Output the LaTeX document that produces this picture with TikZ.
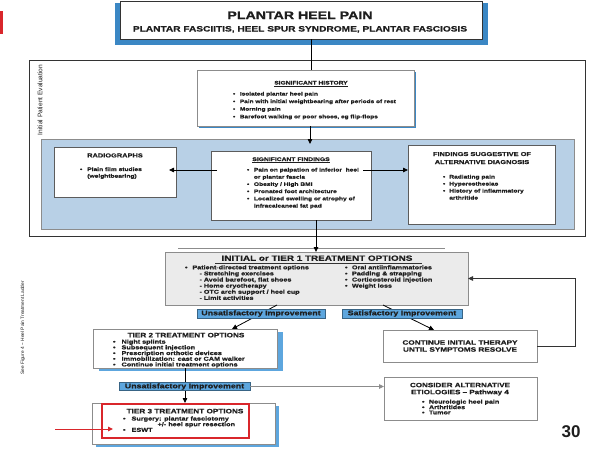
\documentclass[tikz,border=0pt]{standalone}
\usepackage{fontspec}
\setmainfont{Liberation Sans}[FakeStretch=1.3,BoldFeatures={FakeBold=0.8}]
\newfontfamily\plainf{Liberation Sans}
\usetikzlibrary{arrows.meta,calc,fit}
\newcommand{\fb}[2]{\bfseries\fontsize{#1}{#2}\selectfont}
\newcommand{\bl}[2]{\begin{tabular}[t]{@{}l@{\hspace{#1}}l@{}}#2\end{tabular}}
\newcommand{\cl}[1]{\begin{tabular}[t]{@{}c@{}}#1\end{tabular}}
\definecolor{panelblue}{HTML}{B8D0E6}
\definecolor{shadowblue}{HTML}{3B87C4}
\definecolor{labelblue}{HTML}{5DA6DE}
\definecolor{tiergray}{HTML}{EBEBEB}
\definecolor{bordergray}{HTML}{8C8C8C}
\definecolor{darkline}{HTML}{333333}
\definecolor{redmark}{HTML}{D9262B}
\definecolor{txt}{HTML}{1E1E1E}
\begin{document}
\begin{tikzpicture}[x=1pt,y=-1pt,text=txt,
  every node/.style={inner sep=0pt,outer sep=0pt},
  whitebox/.style={draw=#1,fill=white,line width=0.6pt},
  line/.style={draw=black,line width=0.8pt},
  conn/.style={draw=black,line width=0.8pt,-{Triangle[length=5pt,width=4.5pt]}},
  lab/.style={fill=labelblue,draw=labelblue!60!black,line width=0.3pt,font=\fb{6.8}{7}},
  ]
\useasboundingbox (0,0) rectangle (600,450);
\fill[white] (0,0) rectangle (600,450);
% helper coordinates
\coordinate (c170) at (0,170);
\coordinate (x311) at (311,0);
\coordinate (x310) at (310,0);
\coordinate (x316) at (316,0);
\coordinate (x277) at (277,0);
\coordinate (x232) at (232,0);
\coordinate (x383) at (383,0);
\coordinate (x434) at (434,0);
\coordinate (x575) at (575,0);
\coordinate (x185) at (185,0);
\coordinate (redstart) at (55,429);
\coordinate (redend) at (113,429);

% slide mark
\fill[redmark] (0,11) rectangle (3,34);

% title
\fill[shadowblue] (115,3) rectangle (488,45);
\node[fit={(120,1)(482,39)},draw=darkline,fill=white,line width=0.8pt] (title) {};
\node[anchor=base,font=\fb{10.9}{12}] (titleA) at (300,19) {PLANTAR HEEL PAIN};
\node[anchor=base,font=\fb{7.8}{9}] (titleB) at (300,31.5) {PLANTAR FASCIITIS, HEEL SPUR SYNDROME, PLANTAR FASCIOSIS};

% evaluation frame
\node[fit={(29,60)(585,236)},draw=darkline,line width=0.7pt] (frame) {};
\node[rotate=90,font=\plainf\fontsize{6.6}{7}\selectfont] (ipe) at (40,100) {Initial Patient Evaluation};
\node[fit={(41,139)(574,229)},draw=bordergray,fill=panelblue,line width=0.5pt] (panel) {};

% history
\fill[shadowblue] (199,72) rectangle (416,128);
\node[fit={(197,70)(414,126)},whitebox=bordergray] (history) {};
\node[anchor=base,font=\fb{5.1}{6}] (histT) at (311,84.5) {\underline{SIGNIFICANT HISTORY}};
\node[anchor=base west,font=\fb{5}{7.6}] (histB) at (233,95.5) {\bl{4.6pt}{%
\textbullet & Isolated plantar heel pain\\
\textbullet & Pain with initial weightbearing after periods of rest\\
\textbullet & Morning pain\\
\textbullet & Barefoot walking or poor shoes, eg flip-flops}};

% radiographs
\node[fit={(54,147)(176,197)},whitebox=darkline!80] (radio) {};
\node[anchor=base,font=\fb{5.7}{6}] (radioT) at (115,157.4) {RADIOGRAPHS};
\node[anchor=base west,font=\fb{5.1}{6.7}] (radioB) at (80,171) {\bl{5pt}{%
\textbullet & Plain film studies\\
 & (weightbearing)}};

% findings
\node[fit={(211,151)(371,220)},whitebox=darkline!80] (findings) {};
\node[anchor=base,font=\fb{5.2}{6}] (findT) at (291,161) {\underline{SIGNIFICANT FINDINGS}};
\node[anchor=base west,font=\fb{5.1}{7.2}] (findB) at (247,171.5) {\bl{4.6pt}{%
\textbullet & Pain on palpation of inferior\ \ heel\\
 & or plantar fascia\\
\textbullet & Obesity / High BMI\\
\textbullet & Pronated foot architecture\\
\textbullet & Localized swelling or atrophy of\\
 & infracalcaneal fat pad}};

% alternative diagnosis
\node[fit={(408,145)(555,224)},whitebox=darkline!80] (alt) {};
\node[anchor=base,font=\fb{5.7}{8}] (altT) at (482,156) {\cl{FINDINGS SUGGESTIVE OF\\ALTERNATIVE DIAGNOSIS}};
\node[anchor=base west,font=\fb{5.1}{7}] (altB) at (443,178.5) {\bl{4pt}{%
\textbullet & Radiating pain\\
\textbullet & Hyperesthesias\\
\textbullet & History of inflammatory\\
 & arthritide}};

% tier 1
\draw[bordergray,line width=0.5pt] (178,248) -- (445,248);
\node[fit={(165,252)(468,305)},draw=bordergray,fill=tiergray,line width=0.6pt] (tier1) {};
\node[anchor=base,font=\fb{7.6}{8}] (tier1T) at (317,260.8) {INITIAL or TIER 1 TREATMENT OPTIONS};
\draw[darkline,line width=1pt] (215,263.6) -- (422,263.6);
\node[anchor=base west,font=\fb{5.5}{6.1}] (tier1L) at (185,269.3) {\bl{5pt}{%
\textbullet & Patient-directed treatment options\\
 & \hspace{7pt}- Stretching exercises\\
 & \hspace{7pt}- Avoid barefoot, flat shoes\\
 & \hspace{7pt}- Home cryotherapy\\
 & \hspace{7pt}- OTC arch support / heel cup\\
 & \hspace{7pt}- Limit activities}};
\node[anchor=base west,font=\fb{5.5}{6.1}] (tier1R) at (345,269.3) {\bl{4.5pt}{%
\textbullet & Oral antiinflammatories\\
\textbullet & Padding \& strapping\\
\textbullet & Corticosteroid injection\\
\textbullet & Weight loss}};

% continue box
\node[draw=bordergray,fill=white,line width=0.6pt,minimum width=154,minimum height=32,align=center,font=\fb{6.3}{7}] (cont) at (460,346) {CONTINUE INITIAL THERAPY\\UNTIL SYMPTOMS RESOLVE};

% tier 2
\fill[labelblue] (99,332) rectangle (283,371);
\node[fit={(93,329)(277,368)},whitebox=bordergray] (tier2) {};
\node[anchor=base,font=\fb{6.3}{7}] (tier2T) at (186,337.3) {TIER 2 TREATMENT OPTIONS};
\node[anchor=base west,font=\fb{5.6}{5.5}] (tier2B) at (113,343.6) {\bl{6pt}{%
\textbullet & Night splints\\
\textbullet & Subsequent injection\\
\textbullet & Prescription orthotic devices\\
\textbullet & Immobilization: cast or CAM walker\\
\textbullet & Continue initial treatment options}};

% tier 3
\fill[labelblue] (96,406) rectangle (279,447);
\node[fit={(92,403)(275,444)},whitebox=bordergray] (tier3) {};
\node[fit={(102,404)(249,438)},draw=redmark,line width=1.5pt] (tier3red) {};
\node[anchor=base,font=\fb{6.3}{7}] (tier3T) at (185,413.3) {TIER 3 TREATMENT OPTIONS};
\node[anchor=base west,font=\fb{5.6}{5.5}] (tier3B) at (123,420.5) {\bl{6pt}{%
\textbullet & Surgery: plantar fasciotomy\\
 & \hspace{26pt}+/- heel spur resection\\
\textbullet & ESWT}};

% consider box
\node[fit={(384,377)(537,420)},whitebox=bordergray] (consider) {};
\node[anchor=base,font=\fb{6.2}{7}] (considerT) at (460,387.2) {\cl{CONSIDER ALTERNATIVE\\ETIOLOGIES -- Pathway 4}};
\node[anchor=base west,font=\fb{5.5}{5}] (considerB) at (422,403.6) {\bl{4.5pt}{%
\textbullet & Neurologic heel pain\\
\textbullet & Arthritides\\
\textbullet & Tumor}};

% side texts
\node[rotate=90,font=\plainf\fontsize{4.8}{5}\selectfont] (seefig) at (23,328) {See Figure 4 -- Heel Pain Treatment Ladder};
\node[anchor=base,font=\plainf\bfseries\fontsize{17}{18}\selectfont] (pg) at (571,437) {30};

% connectors
\draw[line] (title.south -| x311) -- (history.north -| x311);
\draw[conn] (history.south -| x310) -- ($(findings.north -| x310)+(0,-7)$);
\draw[conn,shorten <=-6pt,shorten >=-7pt] (findings.west |- c170) -- (radio.east |- c170);
\draw[conn,shorten <=-8pt] (findings.east |- c170) -- (alt.west |- c170);
\draw[conn] (findings.south -| x316) -- (tier1.north -| x316);
\draw[conn] (tier1.south -| x277) -- (tier2.north -| x232);
\draw[conn] (tier1.south -| x383) -- (cont.north -| x434);
\draw[conn,draw=darkline] (cont.east) -- (cont.east -| x575) |- (tier1.east);
\draw[conn] (tier2.south -| x185) -- (tier3.north -| x185);
\draw[conn,draw=redmark,line width=1pt,-{Triangle[length=5pt,width=4.5pt]}] (redstart) -- (redend);

% improvement labels
\node[lab,minimum width=128,minimum height=9] (lab1) at (261,313.5) {Unsatisfactory Improvement};
\node[lab,minimum width=120,minimum height=9] (lab3) at (402,313.5) {Satisfactory Improvement};
\node[lab,minimum width=131,minimum height=8] (lab2) at (184.5,386.5) {Unsatisfactory Improvement};
\draw[conn,draw=bordergray] (lab2.east) -- (consider.west |- lab2.east);
\end{tikzpicture}
\end{document}
